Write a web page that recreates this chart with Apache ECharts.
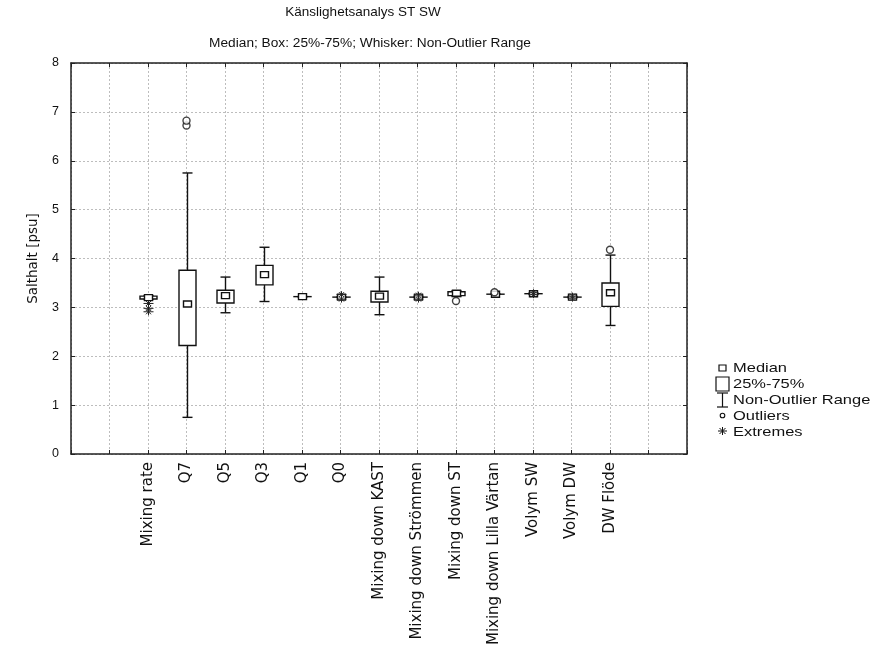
<!DOCTYPE html>
<html>
<head>
<meta charset="utf-8">
<script src="https://cdn.jsdelivr.net/npm/echarts@6/dist/echarts.min.js"></script>
<style>
html,body{margin:0;padding:0;background:#fff;}
#chart{width:877px;height:658px;}
</style>
</head>
<body>
<div id="chart"></div>
<script>
const categories = ['Mixing rate','Q7','Q5','Q3','Q1','Q0','Mixing down KAST','Mixing down Strömmen','Mixing down ST','Mixing down Lilla Värtan','Volym SW','Volym DW','DW Flöde'];
const medians     = [3.20, 3.07, 3.24, 3.67, 3.22, 3.21, 3.23, 3.21, 3.29, 3.27, 3.28, 3.21, 3.30];
const q1s         = [3.17, 2.22, 3.09, 3.46, 3.22, 3.21, 3.11, 3.21, 3.24, 3.27, 3.28, 3.21, 3.02];
const q3s         = [3.23, 3.76, 3.35, 3.86, 3.22, 3.21, 3.33, 3.21, 3.32, 3.27, 3.28, 3.21, 3.50];
const whiskerLow  = [3.16, 0.75, 2.89, 3.12, 3.22, 3.21, 2.85, 3.21, 3.22, 3.27, 3.28, 3.21, 2.63];
const whiskerHigh = [3.24, 5.75, 3.62, 4.23, 3.22, 3.21, 3.62, 3.21, 3.34, 3.27, 3.28, 3.21, 4.07];
const outliers    = [[], [6.72, 6.82], [], [], [], [], [], [], [3.13], [3.31], [], [], [4.18]];
const extremes    = [[3.08, 2.98, 2.91], [], [], [], [], [3.26, 3.17], [], [3.25, 3.17], [], [], [3.30, 3.26], [3.23, 3.19], []];
const yTicks = [0,1,2,3,4,5,6,7,8];

const OFFSET = 2; // category i is drawn at x = i + 2 on a 0..16 axis
const boxData = categories.map((c, i) => [i + OFFSET, whiskerLow[i], q1s[i], medians[i], q3s[i], whiskerHigh[i]]);
const outData = [];
outliers.forEach((arr, i) => arr.forEach(v => outData.push([i + OFFSET, v])));
const extData = [];
extremes.forEach((arr, i) => arr.forEach(v => extData.push([i + OFFSET, v])));

const chart = echarts.init(document.getElementById('chart'), null, {renderer: 'canvas'});
const FONT = "'Liberation Sans', Arial, sans-serif";
const WIDE = "'DejaVu Sans', sans-serif";
const lineStyle = {stroke: '#111', lineWidth: 1.4, fill: null};

function renderBox(params, api) {
  const x = api.value(0);
  const pLo = api.coord([x, api.value(1)]);
  const pQ1 = api.coord([x, api.value(2)]);
  const pMed = api.coord([x, api.value(3)]);
  const pQ3 = api.coord([x, api.value(4)]);
  const pHi = api.coord([x, api.value(5)]);
  const cx = Math.round(pMed[0]) + 0.5;
  const bw = 17, cw = 10, mw = 8, mh = 6;
  const children = [];
  children.push({type:'line', shape:{x1:cx, y1:pLo[1], x2:cx, y2:pHi[1]}, style:lineStyle});
  children.push({type:'line', shape:{x1:cx-cw/2, y1:pLo[1], x2:cx+cw/2, y2:pLo[1]}, style:lineStyle});
  children.push({type:'line', shape:{x1:cx-cw/2, y1:pHi[1], x2:cx+cw/2, y2:pHi[1]}, style:lineStyle});
  children.push({type:'rect', shape:{x:cx-bw/2, y:pQ3[1], width:bw, height:Math.max(0.01, pQ1[1]-pQ3[1])},
    style:{stroke:'#111', lineWidth:1.4, fill:'#fff'}});
  children.push({type:'rect', shape:{x:cx-mw/2, y:pMed[1]-mh/2, width:mw, height:mh},
    style:{stroke:'#111', lineWidth:1.4, fill:'#fff'}});
  return {type:'group', children};
}

function renderExtreme(params, api) {
  const p = api.coord([api.value(0), api.value(1)]);
  const cx = Math.round(p[0]) + 0.5, cy = p[1], r = 3.5, d = 2.5;
  const st = {stroke:'#222', lineWidth:1, fill:null};
  return {type:'group', children:[
    {type:'line', shape:{x1:cx-r-1.5, y1:cy, x2:cx+r+1.5, y2:cy}, style:st},
    {type:'line', shape:{x1:cx, y1:cy-r, x2:cx, y2:cy+r}, style:st},
    {type:'line', shape:{x1:cx-d, y1:cy-d, x2:cx+d, y2:cy+d}, style:st},
    {type:'line', shape:{x1:cx+d, y1:cy-d, x2:cx-d, y2:cy+d}, style:st}
  ]};
}

const gridL = 71, gridR = 687, gridT = 63, gridB = 454;
const LF = '13.5px ' + FONT;

const option = {
  animation: false,
  backgroundColor: '#fff',
  textStyle: {fontFamily: FONT},
  grid: {left: gridL, right: 877 - gridR, top: gridT, bottom: 658 - gridB, containLabel: false},
  xAxis: [{
    type: 'value', min: 0, max: 16, interval: 1, position: 'bottom',
    axisLine: {show: true, onZero: false, lineStyle: {color: '#222', width: 1.5}},
    axisTick: {show: true, inside: true, length: 4, lineStyle: {color: '#222'}},
    axisLabel: {
      show: true, rotate: 90, margin: 8, fontSize: 15, color: '#111', fontFamily: WIDE,
      showMinLabel: true, showMaxLabel: true,
      formatter: v => categories[v - OFFSET] || ''
    },
    splitLine: {show: true, lineStyle: {color: '#bdbdbd', type: [2, 2], width: 1}}
  }, {
    type: 'value', min: 0, max: 16, interval: 1, position: 'top',
    axisLine: {show: true, onZero: false, lineStyle: {color: '#222', width: 1.5}},
    axisTick: {show: true, inside: true, length: 4, lineStyle: {color: '#222'}},
    axisLabel: {show: false}, splitLine: {show: false}
  }],
  yAxis: [{
    type: 'value', min: 0, max: 8, interval: 1, position: 'left',
    name: 'Salthalt [psu]', nameLocation: 'middle', nameGap: 31, nameRotate: 90,
    nameTextStyle: {fontSize: 13.5, color: '#111', fontFamily: WIDE},
    axisLine: {show: true, onZero: false, lineStyle: {color: '#222', width: 1.5}},
    axisTick: {show: true, inside: true, length: 4, lineStyle: {color: '#222'}},
    axisLabel: {show: true, margin: 12, fontSize: 12.5, color: '#111', fontFamily: FONT,
      formatter: v => yTicks.includes(v) ? String(v) : ''},
    splitLine: {show: true, lineStyle: {color: '#bdbdbd', type: [2, 2], width: 1}}
  }, {
    type: 'value', min: 0, max: 8, interval: 1, position: 'right',
    axisLine: {show: true, onZero: false, lineStyle: {color: '#222', width: 1.5}},
    axisTick: {show: true, inside: true, length: 4, lineStyle: {color: '#222'}},
    axisLabel: {show: false}, splitLine: {show: false}
  }],
  series: [{
    type: 'custom', name: 'box', xAxisIndex: 0, yAxisIndex: 0,
    renderItem: renderBox, data: boxData, clip: false,
    encode: {x: 0, y: [1, 2, 3, 4, 5]}
  }, {
    type: 'scatter', name: 'Outliers', xAxisIndex: 0, yAxisIndex: 0,
    data: outData, symbol: 'circle', symbolSize: 7,
    itemStyle: {color: '#fff', borderColor: '#111', borderWidth: 1.4}
  }, {
    type: 'custom', name: 'Extremes', xAxisIndex: 0, yAxisIndex: 0,
    renderItem: renderExtreme, data: extData, clip: false,
    encode: {x: 0, y: 1}
  }],
  graphic: [
    {type: 'text', style: {text: 'Känslighetsanalys ST SW', x: 363, y: 5, textAlign: 'center', font: '13.5px ' + FONT, fill: '#111'}},
    {type: 'text', style: {text: 'Median; Box: 25%-75%; Whisker: Non-Outlier Range', x: 370, y: 36, textAlign: 'center', font: '13.7px ' + FONT, fill: '#111'}},
    {type: 'rect', shape: {x: 719, y: 365, width: 7, height: 6}, style: {stroke: '#111', lineWidth: 1.2, fill: '#fff'}},
    {type: 'text', x: 733, y: 361, scaleX: 1.22, style: {text: 'Median', font: LF, fill: '#111'}},
    {type: 'rect', shape: {x: 716, y: 377, width: 13, height: 14}, style: {stroke: '#111', lineWidth: 1.2, fill: '#fff'}},
    {type: 'text', x: 733, y: 377, scaleX: 1.22, style: {text: '25%-75%', font: LF, fill: '#111'}},
    {type: 'line', shape: {x1: 722.5, y1: 393, x2: 722.5, y2: 407}, style: {stroke: '#111', lineWidth: 1.2}},
    {type: 'line', shape: {x1: 717, y1: 393, x2: 728, y2: 393}, style: {stroke: '#111', lineWidth: 1.2}},
    {type: 'line', shape: {x1: 717, y1: 407, x2: 728, y2: 407}, style: {stroke: '#111', lineWidth: 1.2}},
    {type: 'text', x: 733, y: 393, scaleX: 1.22, style: {text: 'Non-Outlier Range', font: LF, fill: '#111'}},
    {type: 'circle', shape: {cx: 722.5, cy: 415.5, r: 2.3}, style: {stroke: '#111', lineWidth: 1.1, fill: '#fff'}},
    {type: 'text', x: 733, y: 409, scaleX: 1.22, style: {text: 'Outliers', font: LF, fill: '#111'}},
    {type: 'line', shape: {x1: 718, y1: 431, x2: 727, y2: 431}, style: {stroke: '#111', lineWidth: 1}},
    {type: 'line', shape: {x1: 722.5, y1: 427, x2: 722.5, y2: 435}, style: {stroke: '#111', lineWidth: 1}},
    {type: 'line', shape: {x1: 719.5, y1: 428, x2: 725.5, y2: 434}, style: {stroke: '#111', lineWidth: 1}},
    {type: 'line', shape: {x1: 725.5, y1: 428, x2: 719.5, y2: 434}, style: {stroke: '#111', lineWidth: 1}},
    {type: 'text', x: 733, y: 425, scaleX: 1.22, style: {text: 'Extremes', font: LF, fill: '#111'}}
  ]
};
chart.setOption(option);
</script>
</body>
</html>
